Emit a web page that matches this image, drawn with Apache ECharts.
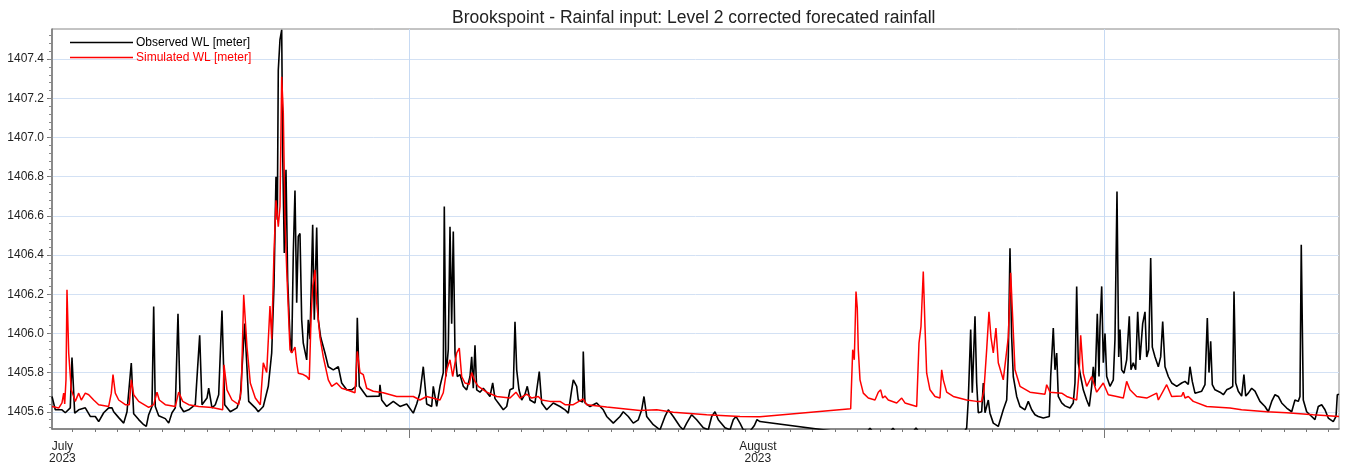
<!DOCTYPE html>
<html>
<head>
<meta charset="utf-8">
<script src="https://cdn.jsdelivr.net/npm/echarts@6/dist/echarts.min.js"></script>
<style>html,body{margin:0;padding:0;background:#fff}#c{width:1346px;height:466px}</style>
</head>
<body>
<div id="c"></div>
<script>
// Time axis in days since 1 July 2023 00:00
const obsDay = [-0.909,-0.762,-0.464,-0.316,-0.094,-0.018,0.103,0.281,0.575,0.798,1.021,1.172,1.395,1.618,1.765,1.841,2.064,2.287,2.434,2.625,2.732,2.955,3.178,3.294,3.401,3.548,3.624,3.695,3.847,4.141,4.293,4.440,4.587,4.707,4.810,4.961,5.184,5.478,5.674,5.777,6.000,6.076,6.223,6.370,6.521,6.668,6.789,7.038,7.337,7.484,7.680,7.859,8.153,8.286,8.509,8.732,8.884,8.986,9.075,9.134,9.178,9.254,9.330,9.374,9.446,9.521,9.597,9.700,9.775,9.847,9.922,9.998,10.069,10.145,10.221,10.292,10.444,10.515,10.591,10.711,10.783,10.890,10.961,11.068,11.260,11.407,11.630,11.853,12.004,12.227,12.450,12.642,12.700,12.789,13.119,13.680,13.711,13.787,14.010,14.304,14.603,14.902,15.196,15.347,15.494,15.641,15.793,16.016,16.087,16.239,16.386,16.533,16.578,16.653,16.756,16.832,16.907,16.979,17.055,17.157,17.277,17.424,17.576,17.723,17.799,17.870,17.946,18.022,18.169,18.316,18.468,18.615,18.735,18.838,18.985,19.208,19.359,19.506,19.653,19.729,19.805,19.907,20.028,20.175,20.277,20.398,20.621,20.812,20.919,21.142,21.436,21.735,21.958,22.105,22.256,22.328,22.479,22.550,22.747,22.773,22.849,23.072,23.371,23.665,23.817,24.111,24.410,24.556,24.779,25.002,25.225,25.377,25.479,25.600,25.894,26.192,26.415,26.563,26.785,27.084,27.231,27.383,27.605,27.828,28.123,28.345,28.497,28.644,28.791,29.090,29.313,29.460,29.580,29.758,29.905,30.200,30.400,30.516,30.650,33.993,35.375,35.553,35.732,36.400,36.578,36.757,37.425,37.604,37.782,39.654,39.863,39.935,40.042,40.113,40.234,40.309,40.381,40.532,40.604,40.680,40.827,40.902,41.050,41.272,41.495,41.647,41.718,41.794,41.869,41.941,42.093,42.240,42.463,42.610,42.761,42.909,43.055,43.278,43.546,43.608,43.724,43.800,43.876,43.947,44.099,44.246,44.469,44.615,44.691,44.767,44.838,44.945,45.061,45.213,45.329,45.436,45.507,45.583,45.686,45.762,45.806,45.882,45.953,46.029,46.105,46.252,46.399,46.474,46.564,46.640,46.697,46.772,46.877,46.995,47.112,47.187,47.290,47.397,47.486,47.589,47.709,47.812,47.888,47.977,48.066,48.138,48.259,48.406,48.511,48.601,48.704,48.851,49.001,49.225,49.447,49.595,49.742,49.818,49.920,50.040,50.190,50.340,50.486,50.590,50.665,50.740,50.812,50.932,51.155,51.306,51.453,51.600,51.723,51.780,51.855,51.971,52.121,52.222,52.301,52.418,52.567,52.715,52.937,53.161,53.309,53.459,53.608,53.753,53.905,54.128,54.351,54.497,54.645,54.720,54.778,54.868,55.019,55.242,55.389,55.537,55.688,55.835,55.982,56.205,56.327,56.385,56.460];
const obsWL = [1405.678,1405.61,1405.61,1405.595,1405.62,1405.877,1405.593,1405.61,1405.62,1405.576,1405.576,1405.55,1405.595,1405.62,1405.62,1405.60,1405.57,1405.542,1405.60,1405.849,1405.59,1405.56,1405.534,1405.525,1405.585,1405.627,1406.137,1405.627,1405.58,1405.565,1405.542,1405.595,1405.62,1406.10,1405.627,1405.60,1405.61,1405.636,1405.99,1405.636,1405.67,1405.72,1405.62,1405.636,1405.687,1406.117,1405.636,1405.60,1405.62,1405.67,1406.05,1405.653,1405.62,1405.60,1405.627,1405.73,1405.90,1406.24,1406.80,1406.58,1407.345,1407.50,1407.55,1406.92,1406.41,1406.835,1406.27,1405.98,1405.90,1406.41,1406.73,1406.157,1406.495,1406.51,1406.07,1405.95,1405.865,1406.07,1405.97,1406.555,1406.07,1406.54,1406.07,1405.98,1405.90,1405.83,1405.814,1405.83,1405.747,1405.712,1405.712,1405.73,1406.08,1405.73,1405.678,1405.68,1405.738,1405.66,1405.627,1405.653,1405.627,1405.64,1405.593,1405.64,1405.697,1405.83,1405.64,1405.627,1405.73,1405.627,1405.73,1405.80,1406.648,1405.78,1405.917,1406.545,1406.05,1406.52,1405.90,1405.78,1405.79,1405.73,1405.712,1405.78,1405.88,1405.72,1405.94,1405.712,1405.70,1405.72,1405.70,1405.678,1405.747,1405.667,1405.645,1405.61,1405.627,1405.712,1405.72,1406.06,1405.814,1405.712,1405.66,1405.69,1405.73,1405.66,1405.645,1405.805,1405.645,1405.61,1405.645,1405.627,1405.61,1405.593,1405.712,1405.763,1405.73,1405.66,1405.65,1405.908,1405.645,1405.627,1405.645,1405.61,1405.576,1405.542,1405.576,1405.60,1405.576,1405.542,1405.559,1405.61,1405.678,1405.576,1405.534,1405.508,1405.576,1405.61,1405.576,1405.525,1405.508,1405.542,1405.585,1405.559,1405.518,1405.508,1405.576,1405.60,1405.559,1405.518,1405.508,1405.559,1405.576,1405.542,1405.508,1405.50,1405.53,1405.56,1405.55,1405.50,1405.49,1405.516,1405.49,1405.49,1405.516,1405.49,1405.49,1405.517,1405.49,1405.48,1405.517,1405.66,1406.02,1405.697,1406.087,1405.747,1405.595,1405.60,1405.747,1405.595,1405.66,1405.593,1405.542,1405.525,1405.61,1405.66,1405.88,1406.435,1405.98,1405.78,1405.678,1405.627,1405.61,1405.653,1405.61,1405.585,1405.576,1405.568,1405.576,1405.78,1406.027,1405.814,1405.90,1405.678,1405.645,1405.63,1405.619,1405.645,1405.747,1406.24,1405.85,1405.78,1405.712,1405.66,1405.627,1405.73,1405.83,1405.73,1406.10,1405.78,1406.035,1406.24,1405.85,1406.0,1405.78,1405.73,1405.763,1405.97,1406.725,1405.88,1406.02,1405.814,1405.797,1405.865,1406.087,1405.814,1405.85,1405.814,1406.11,1405.865,1406.05,1406.11,1405.88,1405.917,1406.385,1405.93,1405.88,1405.83,1405.88,1406.06,1405.83,1405.78,1405.747,1405.73,1405.747,1405.755,1405.74,1405.83,1405.755,1405.695,1405.70,1405.705,1405.738,1406.078,1405.80,1405.96,1405.738,1405.712,1405.70,1405.687,1405.712,1405.72,1405.73,1406.214,1405.747,1405.705,1405.68,1405.79,1405.68,1405.695,1405.72,1405.705,1405.653,1405.627,1405.60,1405.653,1405.687,1405.678,1405.645,1405.619,1405.60,1405.66,1405.653,1405.678,1406.452,1405.66,1405.60,1405.576,1405.56,1405.627,1405.636,1405.61,1405.568,1405.55,1405.576,1405.687,1405.69];

const simDay = [-0.909,-0.611,-0.464,-0.388,-0.343,-0.285,-0.241,-0.165,-0.049,0.129,0.281,0.397,0.575,0.727,0.949,1.172,1.618,1.734,1.810,1.912,2.064,2.358,2.536,2.625,2.732,2.955,3.401,3.624,3.771,3.874,4.141,4.587,4.738,4.917,5.184,5.630,6.223,6.700,6.758,6.891,7.114,7.413,7.529,7.636,7.783,7.930,8.153,8.376,8.509,8.661,8.808,8.884,8.986,9.075,9.178,9.254,9.330,9.401,9.477,9.553,9.700,9.775,9.922,9.998,10.069,10.292,10.444,10.560,10.636,10.711,10.814,10.890,11.037,11.184,11.407,11.559,11.781,12.004,12.227,12.597,12.700,12.820,12.967,13.119,13.413,13.858,14.456,15.196,15.494,15.793,16.386,16.533,16.685,16.832,16.952,17.131,17.246,17.353,17.500,17.692,17.799,17.946,18.093,18.468,18.913,19.506,19.774,19.952,20.251,20.473,20.768,20.919,21.289,21.735,21.958,22.328,22.773,22.925,23.817,25.301,26.045,26.785,28.274,29.758,30.650,34.693,34.783,34.854,34.930,34.987,35.032,35.108,35.255,35.478,35.776,35.923,36.030,36.119,36.222,36.369,36.744,36.967,37.113,37.635,37.737,37.826,37.929,38.005,38.080,38.228,38.451,38.673,38.749,38.820,38.972,39.266,39.863,40.309,40.532,40.635,40.755,40.857,40.947,41.050,41.169,41.272,41.495,41.718,41.825,42.017,42.240,42.685,43.354,43.430,43.577,44.099,44.321,44.767,44.883,44.945,45.061,45.213,45.436,45.658,45.953,46.175,46.550,46.844,46.995,47.143,47.442,47.888,48.333,48.406,48.778,49.001,49.447,49.518,49.595,49.742,49.964,50.563,51.600,52.118,53.234,54.128,55.313,56.460];
const simWL = [1405.627,1405.619,1405.645,1405.695,1405.64,1405.763,1406.223,1405.90,1405.712,1405.653,1405.695,1405.66,1405.695,1405.687,1405.66,1405.636,1405.627,1405.695,1405.79,1405.695,1405.66,1405.636,1405.636,1405.763,1405.687,1405.653,1405.622,1405.636,1405.70,1405.66,1405.636,1405.627,1405.70,1405.653,1405.636,1405.627,1405.622,1405.61,1405.84,1405.712,1405.66,1405.636,1405.712,1406.197,1405.93,1405.747,1405.67,1405.636,1405.85,1405.80,1406.14,1405.97,1406.41,1406.68,1406.545,1406.648,1407.31,1407.125,1406.58,1406.325,1405.917,1405.90,1405.93,1405.85,1405.797,1405.79,1405.78,1405.763,1406.07,1406.24,1406.325,1406.157,1405.98,1405.88,1405.763,1405.73,1405.747,1405.72,1405.712,1405.697,1405.908,1405.80,1405.789,1405.72,1405.705,1405.697,1405.678,1405.678,1405.66,1405.678,1405.66,1405.697,1405.814,1405.865,1405.78,1405.90,1405.925,1405.78,1405.747,1405.74,1405.80,1405.755,1405.73,1405.70,1405.678,1405.67,1405.70,1405.67,1405.69,1405.67,1405.678,1405.66,1405.653,1405.653,1405.636,1405.636,1405.666,1405.636,1405.624,1405.607,1405.61,1405.597,1405.585,1405.576,1405.574,1405.615,1405.917,1405.865,1406.214,1406.13,1405.917,1405.763,1405.695,1405.67,1405.66,1405.70,1405.712,1405.67,1405.68,1405.66,1405.645,1405.67,1405.645,1405.627,1405.95,1406.035,1406.316,1406.035,1405.797,1405.712,1405.678,1405.67,1405.814,1405.763,1405.70,1405.678,1405.66,1405.653,1405.653,1405.712,1405.917,1406.11,1405.98,1405.90,1406.027,1405.85,1405.763,1405.98,1406.31,1405.814,1405.73,1405.70,1405.69,1405.738,1405.70,1405.695,1405.678,1405.66,1405.814,1405.99,1405.797,1405.73,1405.78,1405.70,1405.747,1405.687,1405.678,1405.67,1405.755,1405.712,1405.678,1405.67,1405.695,1405.66,1405.738,1405.678,1405.68,1405.70,1405.67,1405.678,1405.653,1405.627,1405.619,1405.61,1405.60,1405.595,1405.585,1405.576];

const yLabels = [1405.6,1405.8,1406.0,1406.2,1406.4,1406.6,1406.8,1407.0,1407.2,1407.4];
const yMinorTicks = Array.from({length: 51}, (_, i) => +(1405.52 + i * 0.04).toFixed(2));
const xDayTicks = Array.from({length: 57}, (_, i) => i);
const xMajorTicks = [15, 46];
const xMonthLabels = {0: 'July\n2023', 31: 'August\n2023'};

const zip = (a, b) => a.map((v, i) => [v, b[i]]);
const FONT = 'Liberation Sans, Arial, sans-serif';
const chart = echarts.init(document.getElementById('c'), null, {renderer: 'canvas'});
const X_MIN = -0.909, X_MAX = 56.46, Y_MIN = 1405.512, Y_MAX = 1407.554;
const gridBlue = '#d3e1f4';

chart.setOption({
  animation: false,
  backgroundColor: '#fff',
  title: {
    text: 'Brookspoint - Rainfal input: Level 2 corrected forecated rainfall',
    left: 452, top: 9, padding: 0,
    textStyle: {fontFamily: FONT, fontSize: 17.5, fontWeight: 'normal', color: '#222'}
  },
  legend: {
    orient: 'vertical', left: 70, top: 36, itemWidth: 63, itemHeight: 1.5, itemGap: 2,
    padding: 0, icon: 'rect',
    textStyle: {fontFamily: FONT, fontSize: 12, lineHeight: 13, padding: [0, 0, 0, -2]},
    data: [
      {name: 'Observed WL [meter]', textStyle: {color: '#000'}},
      {name: 'Simulated WL [meter]', textStyle: {color: '#f00'}}
    ]
  },
  grid: {left: 52, right: 7, top: 29, bottom: 37, show: true, borderColor: '#888', borderWidth: 1, backgroundColor: '#fff'},
  xAxis: [{
    type: 'value', min: X_MIN, max: X_MAX, position: 'bottom',
    axisLine: {show: true, onZero: false, lineStyle: {color: '#777', width: 1.5}},
    axisTick: {show: true, length: 3, customValues: xDayTicks, lineStyle: {color: '#777'}},
    axisLabel: {show: true, customValues: [0, 31], margin: 12, lineHeight: 12,
      fontFamily: FONT, fontSize: 12, color: '#222', padding: [0, 20, 0, 0],
      formatter: v => xMonthLabels[Math.round(v)] || ''},
    splitLine: {show: false}
  }, {
    type: 'value', min: X_MIN, max: X_MAX, position: 'bottom',
    axisLine: {show: false, onZero: false},
    axisTick: {show: true, length: 9, customValues: xMajorTicks, lineStyle: {color: '#777'}},
    axisLabel: {show: false, customValues: xMajorTicks},
    splitLine: {show: true, lineStyle: {color: '#c7daf3', width: 1}}
  }],
  yAxis: [{
    type: 'value', min: Y_MIN, max: Y_MAX, position: 'left',
    axisLine: {show: true, onZero: false, lineStyle: {color: '#777', width: 1.5}},
    axisTick: {show: true, length: 5, customValues: yLabels, lineStyle: {color: '#777'}},
    axisLabel: {show: true, customValues: yLabels, margin: 8, fontFamily: FONT, fontSize: 12, color: '#222',
      formatter: v => v.toFixed(1)},
    splitLine: {show: true, lineStyle: {color: gridBlue, width: 1}}
  }, {
    type: 'value', min: Y_MIN, max: Y_MAX, position: 'left',
    axisLine: {show: false, onZero: false},
    axisTick: {show: true, length: 3, customValues: yMinorTicks, lineStyle: {color: '#888'}},
    axisLabel: {show: false, customValues: yMinorTicks},
    splitLine: {show: false}
  }],
  series: [{
    name: 'Observed WL [meter]', type: 'line', xAxisIndex: 0, yAxisIndex: 0,
    data: zip(obsDay, obsWL), showSymbol: false, symbol: 'none', clip: true,
    lineStyle: {color: '#000', width: 1.6}, itemStyle: {color: '#000'}, z: 3
  }, {
    name: 'Simulated WL [meter]', type: 'line', xAxisIndex: 0, yAxisIndex: 0,
    data: zip(simDay, simWL), showSymbol: false, symbol: 'none', clip: true,
    lineStyle: {color: '#ff0000', width: 1.5}, itemStyle: {color: '#ff0000'}, z: 4
  }]
});
</script>
</body>
</html>
